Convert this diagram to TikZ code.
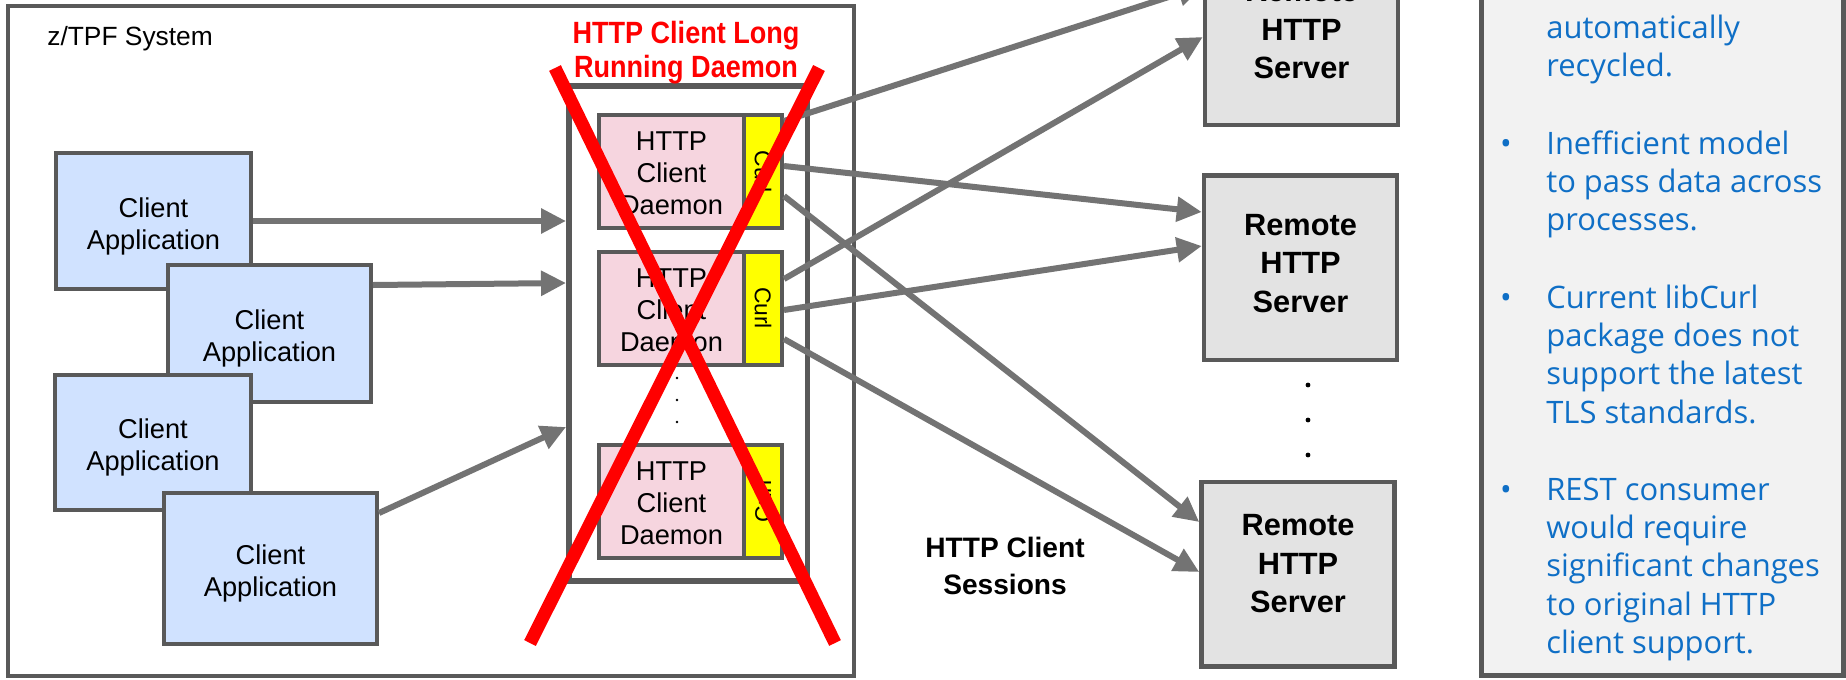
\documentclass[tikz,border=0pt]{standalone}
\usepackage{fontspec}
\setmainfont{Liberation Sans}
\newfontfamily\notesfont{Open Sans}
\newfontfamily\titlefont[FakeStretch=0.88]{Liberation Sans}
\usetikzlibrary{arrows.meta,positioning}

\definecolor{framegray}{HTML}{595959}
\definecolor{arrowgray}{HTML}{737373}
\definecolor{appblue}{HTML}{D0E2FF}
\definecolor{daemonpink}{HTML}{F6D5DF}
\definecolor{curlyellow}{HTML}{FFFF00}
\definecolor{servergray}{HTML}{E3E3E3}
\definecolor{panelgray}{HTML}{F2F2F2}
\definecolor{notesblue}{HTML}{0F6FC6}
\definecolor{xred}{HTML}{FF0000}

% first line of a note sits on the node's base
\newcommand{\notelines}[1]{\begin{tabular}[t]{@{}l@{}}#1\end{tabular}}
% centred lines, moved up or down inside their box
\newcommand{\boxlines}[2]{\raisebox{#1}[\height][\depth]{\begin{tabular}{@{}c@{}}#2\end{tabular}}}

\tikzset{
	client/.style={draw=framegray, fill=appblue, line width=0.8mm, font=\fontsize{15.5}{18.2}\selectfont},
	daemon/.style={draw=framegray, fill=daemonpink, line width=0.8mm, minimum width=29mm, minimum height=22.6mm, font=\fontsize{15.5}{18.2}\selectfont},
	curlbox/.style={draw=framegray, fill=curlyellow, line width=0.8mm, minimum width=7.6mm, minimum height=22.6mm, inner sep=0pt, font=\fontsize{13}{15}\selectfont},
	server/.style={draw=framegray, fill=servergray, line width=0.9mm, minimum width=38.6mm, minimum height=36.9mm, font=\bfseries\fontsize{17.5}{21.8}\selectfont},
	sess/.style={draw=arrowgray, line width=1.2mm, -{Triangle[length=5mm, width=4.8mm]}},
	redx/.style={draw=xred, line width=2.6mm},
	notes/.style={anchor=base west, inner sep=0pt, text=notesblue, font=\notesfont\fontsize{17.6}{21.9}\selectfont},
	bullet/.style={anchor=base, inner sep=0pt, text=notesblue, font=\notesfont\fontsize{17.6}{21.9}\selectfont}
}

\begin{document}
\begin{tikzpicture}[x=0.2mm, y=-0.2mm]
	\useasboundingbox (0,0) rectangle (1846,679);
	\clip (0,0) rectangle (1846,679);
	\fill[white] (0,0) rectangle (1846,679);

	% z/TPF system
	\draw[draw=framegray, line width=0.7mm] (8,6) rectangle (854,676);
	\node[anchor=west, inner sep=0pt, font=\fontsize{15}{18}\selectfont] (sysname) at (47,39) {z/TPF System};

	\node[client, minimum width=39mm, minimum height=27.2mm] (ca) at (153.5,221) {\boxlines{-3.4pt}{Client\\Application}};
	\node[client, minimum width=40.6mm, minimum height=27.4mm] (cb) at (269.5,333.5) {\boxlines{-3.4pt}{Client\\Application}};
	\node[client, minimum width=39.2mm, minimum height=27mm] (cc) at (153,442.5) {\boxlines{-3.4pt}{Client\\Application}};
	\node[client, minimum width=42.6mm, minimum height=30.2mm] (cd) at (270.5,568.5) {\boxlines{-3.4pt}{Client\\Application}};

	\node[draw=framegray, line width=1.1mm, minimum width=47.7mm, minimum height=99mm] (pool) at (688,333.5) {};
	\draw[sess] (ca.east) -- (ca.east -| pool.west);
	\draw[sess] ([yshift=9.7mm]cb.east) -- ([yshift=10.1mm]pool.west);
	\draw[sess] ([yshift=11.1mm]cd.east) -- ([yshift=-18.7mm]pool.west);

	\node[daemon] (d1) at (671.5,171.5) {\boxlines{-2.7pt}{HTTP\\Client\\Daemon}};
	\node[curlbox, right=-0.8mm of d1] (c1) {\rotatebox{-90}{Curl}};
	\node[daemon] (d2) at (671.5,308) {\boxlines{-2.7pt}{HTTP\\Client\\Daemon}};
	\node[curlbox, right=-0.8mm of d2] (c2) {\rotatebox{-90}{Curl}};
	\node[daemon] (d3) at (671.5,501.5) {\boxlines{-2.7pt}{HTTP\\Client\\Daemon}};
	\node[curlbox, right=-0.8mm of d3] (c3) {\rotatebox{90}{Curl}};
	\foreach \y in {378,400,422}
		\fill (677,\y) circle (1.4);

	% remote servers
	\node[server] (s1) at (1301.5,32.5) {\boxlines{0pt}{Remote\\HTTP\\Server}};
	\node[server] (s2) at (1300.5,267.5) {\boxlines{0.8pt}{Remote\\HTTP\\Server}};
	\node[server] (s3) at (1298,574) {\boxlines{4.3pt}{Remote\\HTTP\\Server}};
	\foreach \y in {385,420,455}
		\fill (1308,\y) circle (2.4);

	\draw[sess] ([yshift=10.1mm]c1.east) -- ([yshift=9.3mm]s1.west);
	\draw[sess] ([yshift=1.1mm]c1.east) -- ([yshift=11.1mm]s2.west);
	\draw[sess] ([yshift=-4.9mm]c1.east) -- ([yshift=10.4mm]s3.west);
	\draw[sess] ([yshift=5.8mm]c2.east) -- ([yshift=-0.9mm]s1.west);
	\draw[sess] ([yshift=-0.4mm]c2.east) -- ([yshift=4.3mm]s2.west);
	\draw[sess] ([yshift=-6.2mm]c2.east) -- ([yshift=0.4mm]s3.west);

	\node[align=center, font=\bfseries\fontsize{16}{21}\selectfont] (sessions) at (1005,566) {HTTP Client\\Sessions};

	% crossed out daemon
	\draw[redx] (555,68) -- (835,643);
	\draw[redx] (819,68) -- (530,643);
	\node[align=center, text=xred, font=\titlefont\bfseries\fontsize{17.5}{19.6}\selectfont] (title) at (686,52.5) {HTTP Client Long\\Running Daemon};

	% notes
	\draw[draw=framegray, fill=panelgray, line width=1mm] (1481,-20) rectangle (1843,675);
	\node[notes] (n1) at (1546,38.5) {\notelines{automatically\\recycled.}};
	\node[bullet] (b2) at (1506,154) {•};
	\node[notes] (n2) at (1546,154) {\notelines{Inefficient model\\to pass data across\\processes.}};
	\node[bullet] (b3) at (1506,308) {•};
	\node[notes] (n3) at (1546,308) {\notelines{Current libCurl\\package does not\\support the latest\\TLS standards.}};
	\node[bullet] (b4) at (1506,500) {•};
	\node[notes] (n4) at (1546,500) {\notelines{REST consumer\\would require\\significant changes\\to original HTTP\\client support.}};
\end{tikzpicture}
\end{document}
